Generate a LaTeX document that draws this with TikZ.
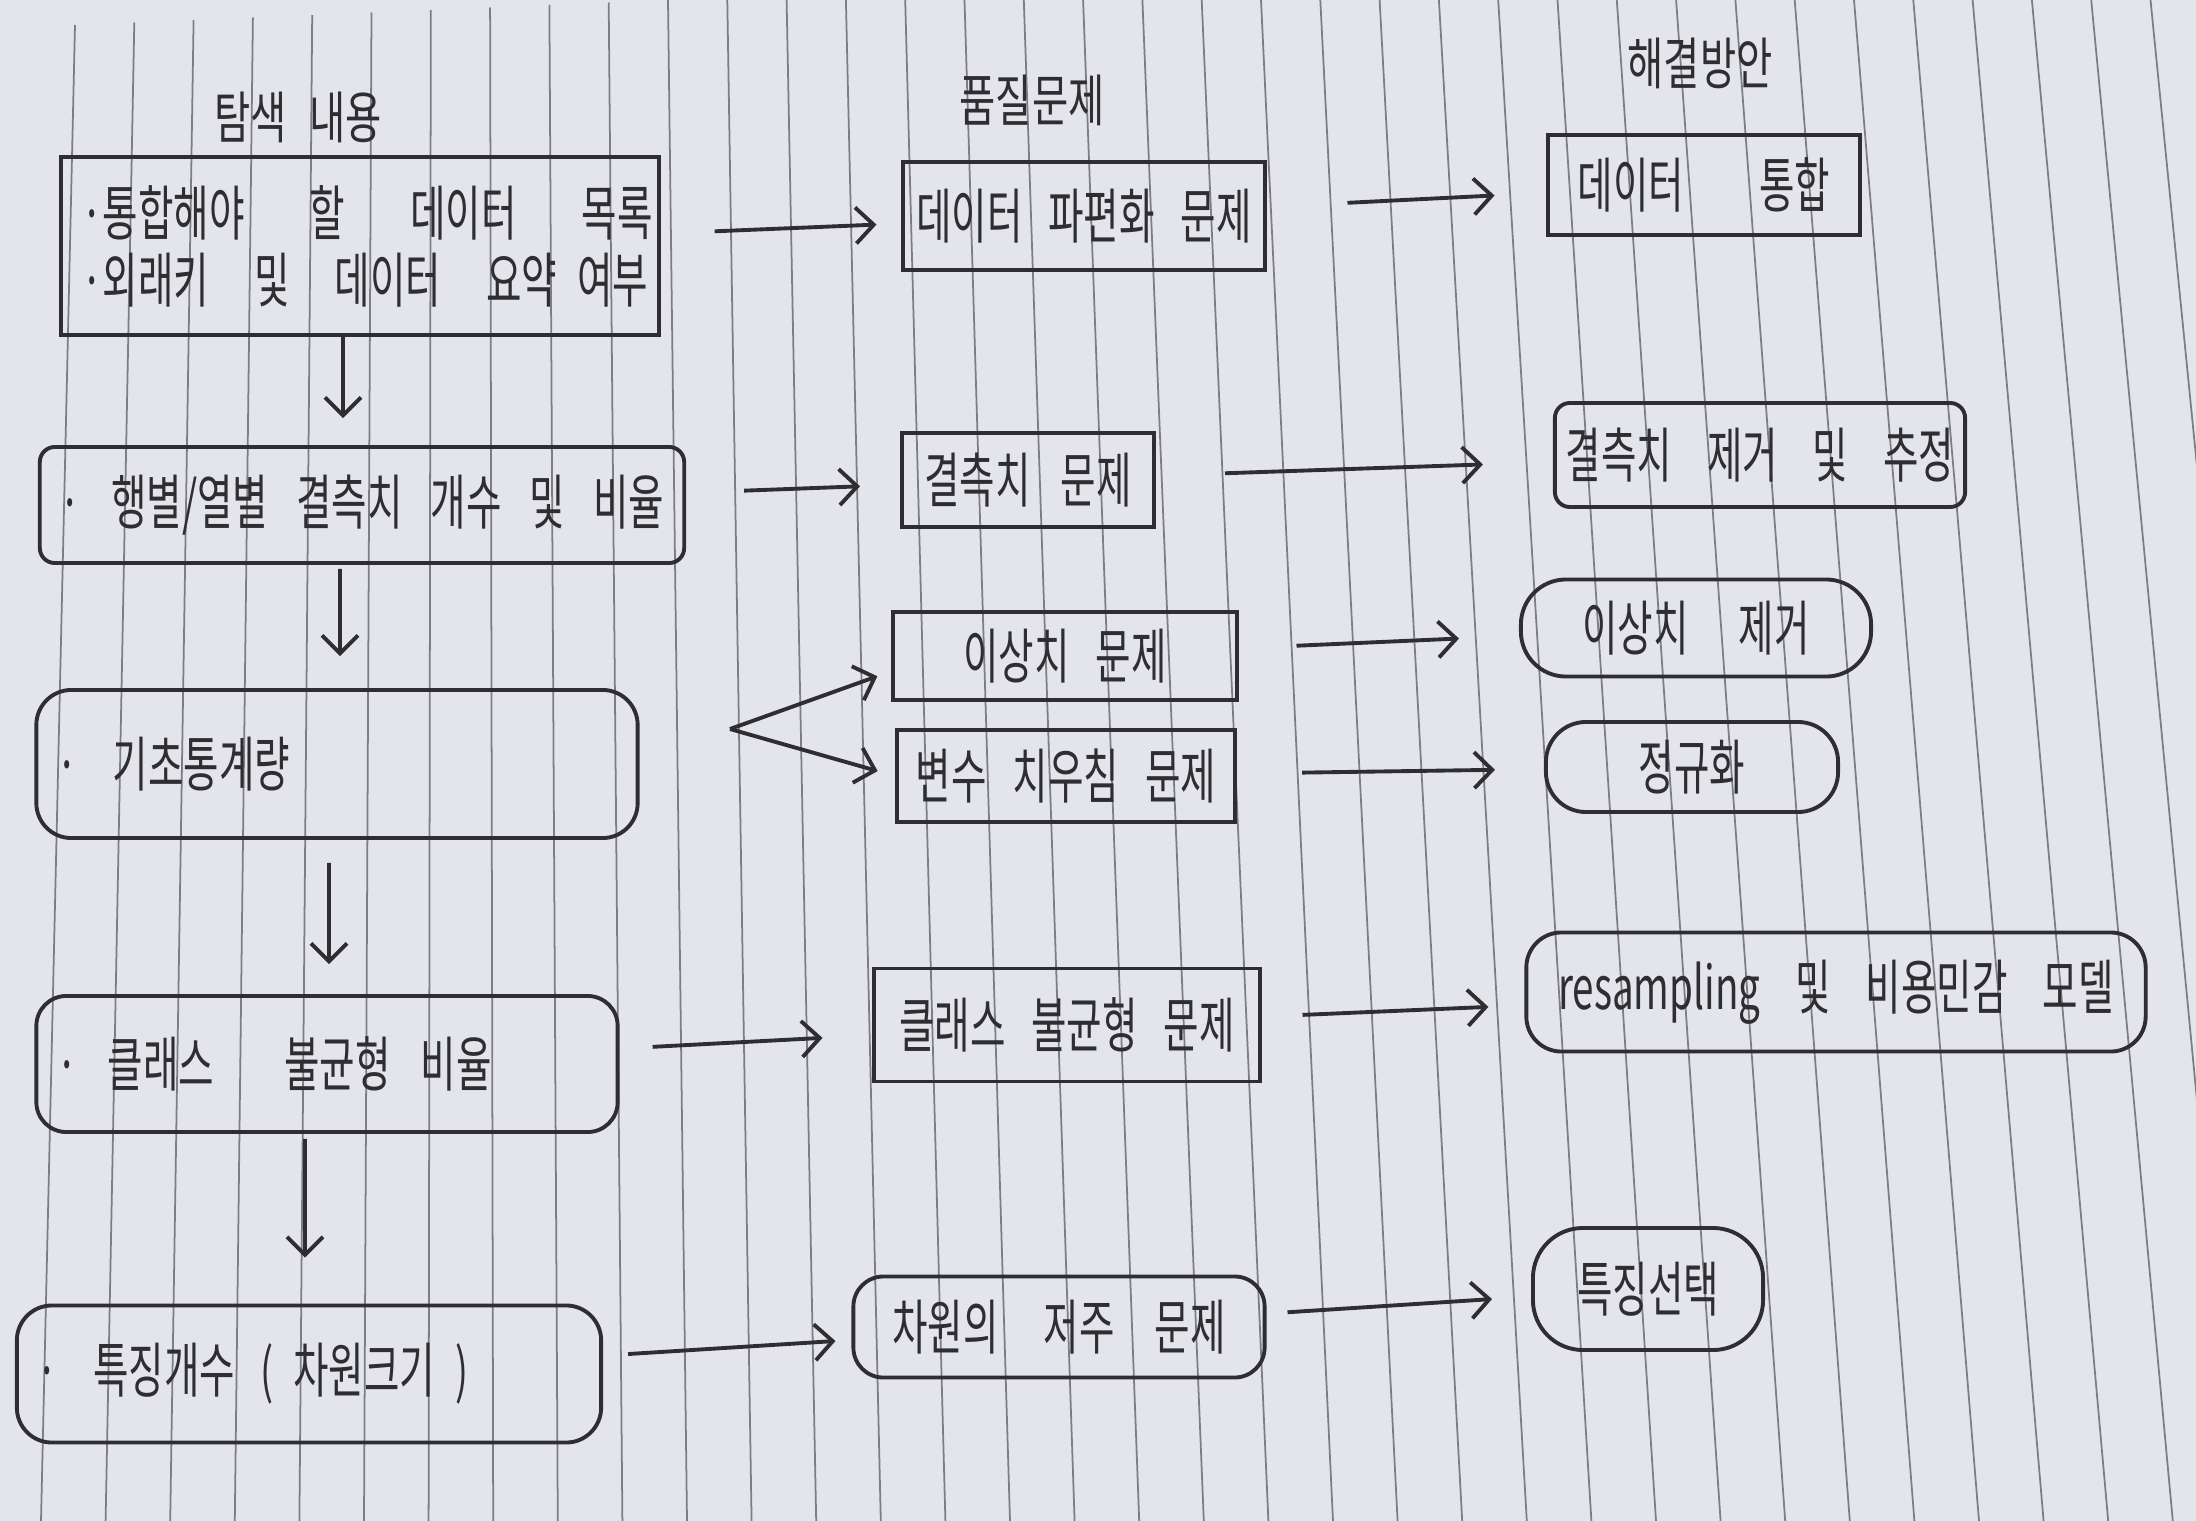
\documentclass[tikz,border=0pt]{standalone}
\usepackage{fontspec}
\usetikzlibrary{arrows.meta}

\newfontfamily\hand[FakeStretch=0.645,WordSpace=3]{Noto Sans CJK KR}
\newfontfamily\headhand[FakeStretch=0.7,WordSpace=2.5]{Noto Sans CJK KR}

\definecolor{paper}{RGB}{228,229,234}
\definecolor{rule}{RGB}{125,126,132}
\definecolor{ink}{RGB}{45,45,50}

\tikzset{
	box/.style={draw=ink, line width=1.1pt, text=ink, inner sep=0pt,
		font=\hand\fontsize{17pt}{19pt}\selectfont},
	leftbox/.style={box, align=left, inner xsep=2mm},
	flow/.style={draw=ink, line width=1.1pt, -{Straight Barb[length=1.8mm,width=3.6mm]}},
	heading/.style={text=ink, font=\headhand\fontsize{16pt}{18pt}\selectfont}
}

\begin{document}
\begin{tikzpicture}[x=0.01cm, y=-0.01cm]
	\useasboundingbox (0,0) rectangle (2196,1521);
	\fill[paper] (0,0) rectangle (2196,1521);
	
	% ruled paper
	\begin{scope}
		\clip (0,0) rectangle (2196,1521);
		\foreach \k in {0,...,35}{
			\pgfmathsetmacro{\xt}{75+59.3*\k}
			\pgfmathsetmacro{\xb}{41+64.6*\k}
			\pgfmathsetmacro{\yt}{max(0,25-2.5*\k)}
			\draw[rule, line width=0.5pt] (\xt,\yt) -- (\xb,1521);
		}
	\end{scope}
	
	% headings
	\node[heading] (hExplore) at (298,117) {탐색 내용};
	\node[heading] (hQuality) at (1032,100) {품질문제};
	\node[heading] (hSolve) at (1700,63) {해결방안};
	
	% explored items
	\node[leftbox, text width=5.57cm, minimum height=1.78cm] (L1) at (360,246)
		{·통합해야\hspace*{6.5mm}할\hspace*{6.5mm}데이터\hspace*{6.5mm}목록\\
		 ·외래키\hspace*{4.5mm}및\hspace*{4.5mm}데이터\hspace*{4.5mm}요약\hspace*{2mm}여부};
	\node[leftbox, rounded corners=1.5mm, text width=6.04cm, minimum height=1.16cm] (L2) at (362,505)
		{·\hspace*{3mm}행별/열별\hspace*{2.8mm}결측치\hspace*{2.8mm}개수\hspace*{2.8mm}및\hspace*{2.8mm}비율};
	\node[leftbox, rounded corners=3.5mm, text width=5.61cm, minimum height=1.48cm] (L3) at (337,764)
		{·\hspace*{3.5mm}기초통계량};
	\node[leftbox, rounded corners=3mm, text width=5.41cm, minimum height=1.36cm] (L4) at (327,1064)
		{·\hspace*{3mm}클래스\hspace*{7mm}불균형\hspace*{3mm}비율};
	\node[leftbox, rounded corners=3.5mm, text width=5.44cm, minimum height=1.37cm] (L5) at (309,1374)
		{·\hspace*{3.5mm}특징개수\hspace*{2.5mm}(\hspace*{2mm}차원크기\hspace*{2mm})};
	
	% quality problems
	\node[box, minimum width=3.61cm, minimum height=1.08cm] (M1) at (1084,216) {데이터 파편화 문제};
	\node[box, minimum width=2.52cm, minimum height=0.94cm] (M2) at (1028,480) {결측치\hspace*{3mm}문제};
	\node[box, minimum width=3.43cm, minimum height=0.88cm] (M3) at (1065,656) {이상치 문제};
	\node[box, minimum width=3.38cm, minimum height=0.92cm] (M4) at (1066,776) {변수 치우침 문제};
	\node[box, minimum width=3.85cm, minimum height=1.13cm] (M5) at (1067,1025) {클래스 불균형 문제};
	\node[box, rounded corners=3mm, minimum width=4.11cm, minimum height=1.01cm] (M6) at (1059,1327)
		{차원의\hspace*{4.5mm}저주\hspace*{4mm}문제};
	
	% solutions
	\node[box, minimum width=3.11cm, minimum height=1.00cm] (R1) at (1704,185) {데이터\hspace*{7.5mm}통합};
	\node[box, rounded corners=1.5mm, minimum width=4.10cm, minimum height=1.04cm] (R2) at (1760,455)
		{결측치\hspace*{3.5mm}제거\hspace*{3.5mm}및\hspace*{3.5mm}추정};
	\node[box, rounded corners=4.5mm, minimum width=3.50cm, minimum height=0.97cm] (R3) at (1696,628)
		{이상치\hspace*{5mm}제거};
	\node[box, rounded corners=4mm, minimum width=2.92cm, minimum height=0.90cm] (R4) at (1692,767) {정규화};
	\node[box, rounded corners=3.5mm, minimum width=6.19cm, minimum height=1.19cm] (R5) at (1836,992)
		{resampling\hspace*{3.5mm}및\hspace*{3.5mm}비용민감\hspace*{3.5mm}모델};
	\node[box, rounded corners=5mm, minimum width=2.30cm, minimum height=1.22cm] (R6) at (1648,1289) {특징선택};
	
	% downward flow
	\draw[flow, shorten >=2.7mm] ([xshift=-1.7mm]L1.south) -- ([xshift=-1.9mm]L2.north);
	\draw[flow, shorten <=0.4mm, shorten >=3.2mm] ([xshift=-2.2mm]L2.south) -- ([xshift=0.3mm]L3.north);
	\draw[flow, shorten <=2.3mm, shorten >=3mm] ([xshift=-0.8mm]L3.south) -- ([xshift=0.2mm]L4.north);
	\draw[flow, shorten <=0.5mm, shorten >=4.6mm] ([xshift=-2.2mm]L4.south) -- ([xshift=-0.4mm]L5.north);
	
	% items to problems
	\draw[flow, shorten <=5.4mm, shorten >=2.5mm] (L1) -- (M1);
	\draw[flow, shorten <=5.8mm, shorten >=4mm] (L2) -- (M2);
	\coordinate (fork) at (730,729);
	\draw[flow, shorten >=1.5mm] (fork) -- (M3.185);
	\draw[flow, shorten >=1.8mm] (fork) -- (M4.west);
	\draw[flow, shorten <=3.3mm, shorten >=5mm] (L4) -- (M5);
	\draw[flow, shorten <=2.5mm, shorten >=1.6mm] (L5) -- (M6);
	
	% problems to solutions
	\draw[flow, shorten <=8.1mm, shorten >=5.2mm] (M1) -- (R1);
	\draw[flow, shorten <=6.9mm, shorten >=7mm] (M2) -- (R2);
	\draw[flow, shorten <=5.8mm, shorten >=6mm] (M3) -- (R3);
	\draw[flow, shorten <=6.5mm, shorten >=4.9mm] (M4) -- (R4);
	\draw[flow, shorten <=4.1mm, shorten >=3.6mm] (M5) -- (R5);
	\draw[flow, shorten <=2.1mm, shorten >=3.9mm] (M6) -- (R6);
\end{tikzpicture}
\end{document}
